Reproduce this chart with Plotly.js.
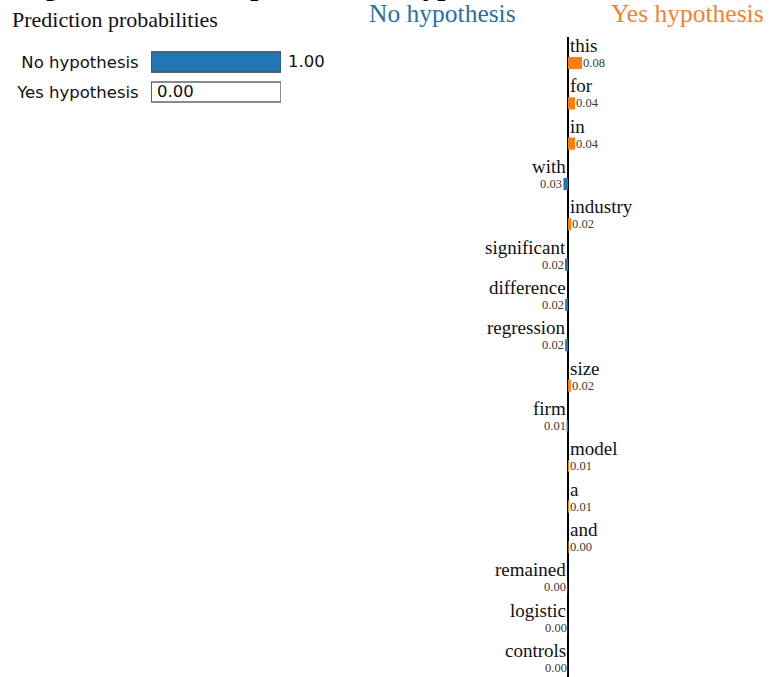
<!DOCTYPE html>
<html>
<head>
<meta charset="utf-8">
<script src="https://cdn.plot.ly/plotly-3.0.1.min.js"></script>
<style>
  html, body { margin: 0; padding: 0; background: #ffffff; }
  #chart { width: 778px; height: 677px; }
</style>
</head>
<body>
<div id="chart"></div>
<script>
// ---- data ----
const classNames = ["No hypothesis", "Yes hypothesis"];
const classProbs = [1.00, 0.00];

const words = ["this", "for", "in", "with", "industry", "significant", "difference",
  "regression", "size", "firm", "model", "a", "and", "remained", "logistic", "controls"];
// positive = towards "Yes hypothesis", negative = towards "No hypothesis"
const weights = [0.080, 0.040, 0.040, -0.026, 0.018, -0.017, -0.016,
  -0.016, 0.016, -0.008, 0.006, 0.006, 0.004, -0.003, -0.002, -0.002];

const titleText = "Figure 3: LIME explanation of hypothesis";

// ---- layout helpers ----
const W = 778, H = 677;
const fx = p => p / W;
const fy = p => 1 - p / H;

const BLUE = "#1f77b4";
const ORANGE = "#ff7f0e";
const SERIF = "Liberation Serif, Times New Roman, serif";
const SANS = "DejaVu Sans, Verdana, sans-serif";

const idx = words.map((_, i) => i);
const posIdx = idx.filter(i => weights[i] >= 0);
const negIdx = idx.filter(i => weights[i] < 0);

const traces = [
  // probability boxes (outline)
  {
    type: "bar", orientation: "h", xaxis: "x", yaxis: "y",
    x: classNames.map(() => 1), y: classNames.map((_, i) => i),
    width: 0.66,
    marker: { color: "#ffffff", line: { color: "#8a8a8a", width: 2 } },
    hoverinfo: "skip", showlegend: false
  },
  // probability fill
  {
    type: "bar", orientation: "h", xaxis: "x", yaxis: "y",
    x: classProbs, y: classNames.map((_, i) => i),
    width: 0.66,
    marker: { color: BLUE, line: { color: "#4a5560", width: 1.5 } },
    hoverinfo: "skip", showlegend: false
  },
  // word weights - Yes side
  {
    type: "bar", orientation: "h", xaxis: "x2", yaxis: "y2",
    x: posIdx.map(i => weights[i]), y: posIdx,
    width: 0.3, marker: { color: ORANGE, line: { width: 0 } },
    hoverinfo: "skip", showlegend: false
  },
  // word weights - No side
  {
    type: "bar", orientation: "h", xaxis: "x2", yaxis: "y2",
    x: negIdx.map(i => weights[i]), y: negIdx,
    width: 0.3, marker: { color: BLUE, line: { width: 0 } },
    hoverinfo: "skip", showlegend: false
  }
];

const annotations = [];

// cut-off figure caption at the very top
annotations.push({
  xref: "paper", yref: "paper", x: fx(16), y: 1, xanchor: "left", yanchor: "bottom",
  yshift: -3, showarrow: false, text: "<b>" + titleText + "</b>",
  font: { family: SERIF, size: 29, color: "#000000" }
});

annotations.push({
  xref: "paper", yref: "paper", x: fx(10), y: fy(20), xanchor: "left", yanchor: "middle",
  showarrow: false, text: "Prediction probabilities",
  font: { family: SERIF, size: 22, color: "#111111" }
});

annotations.push({
  xref: "paper", yref: "paper", x: fx(367), y: fy(13), xanchor: "left", yanchor: "middle",
  showarrow: false, text: classNames[0],
  font: { family: SERIF, size: 25.5, color: "#2a6fa5" }
});
annotations.push({
  xref: "paper", yref: "paper", x: fx(609), y: fy(13), xanchor: "left", yanchor: "middle",
  showarrow: false, text: classNames[1],
  font: { family: SERIF, size: 25.5, color: "#ec8434" }
});

// probability values
classProbs.forEach((p, i) => {
  const inside = p < 0.5;
  annotations.push({
    xref: "x", yref: "y", x: p, y: i, xanchor: "left", yanchor: "middle",
    xshift: inside ? 4 : 5, showarrow: false, text: p.toFixed(2),
    font: { family: SANS, size: 16.5, color: "#111111" }
  });
});

// word labels and weight labels
words.forEach((w, i) => {
  const v = weights[i];
  const pos = v >= 0;
  annotations.push({
    xref: "x2", yref: "y2", x: 0, y: i - 0.43,
    xanchor: pos ? "left" : "right", yanchor: "middle",
    showarrow: false, text: w,
    font: { family: SERIF, size: 19, color: "#111111" }
  });
  annotations.push({
    xref: "x2", yref: "y2", x: v, y: i,
    xanchor: pos ? "left" : "right", yanchor: "middle",
    xshift: pos ? -1 : 1, showarrow: false, text: Math.abs(v).toFixed(2),
    font: { family: SERIF, size: 12.5, color: "#3a3a3a" }
  });
});

const layout = {
  width: W, height: H,
  margin: { l: 0, r: 0, t: 0, b: 0, pad: 0 },
  paper_bgcolor: "#ffffff", plot_bgcolor: "rgba(0,0,0,0)",
  barmode: "overlay",
  showlegend: false,
  xaxis: {
    domain: [fx(151), fx(281)], range: [0, 1], anchor: "y",
    showgrid: false, zeroline: false, showline: false, showticklabels: false, ticks: "",
    fixedrange: true
  },
  yaxis: {
    domain: [fy(107), fy(47)], range: [1.5, -0.5], anchor: "x",
    tickmode: "array", tickvals: classNames.map((_, i) => i), ticktext: classNames,
    ticks: "outside", ticklen: 8, tickcolor: "rgba(0,0,0,0)",
    tickfont: { family: SANS, size: 16.5, color: "#111111" },
    showgrid: false, zeroline: false, showline: false, fixedrange: true
  },
  xaxis2: {
    domain: [fx(480.5), fx(655.5)], range: [-0.5, 0.5], anchor: "y2",
    showgrid: false, showticklabels: false, ticks: "", showline: false,
    zeroline: true, zerolinecolor: "#000000", zerolinewidth: 2, fixedrange: true
  },
  yaxis2: {
    domain: [0, fy(37)], range: [(677 - 63) / 40.33, (37 - 63) / 40.33], anchor: "x2",
    showgrid: false, showticklabels: false, ticks: "", showline: false, zeroline: false,
    fixedrange: true
  },
  annotations: annotations
};

Plotly.newPlot("chart", traces, layout, { staticPlot: true, displayModeBar: false });
</script>
</body>
</html>
